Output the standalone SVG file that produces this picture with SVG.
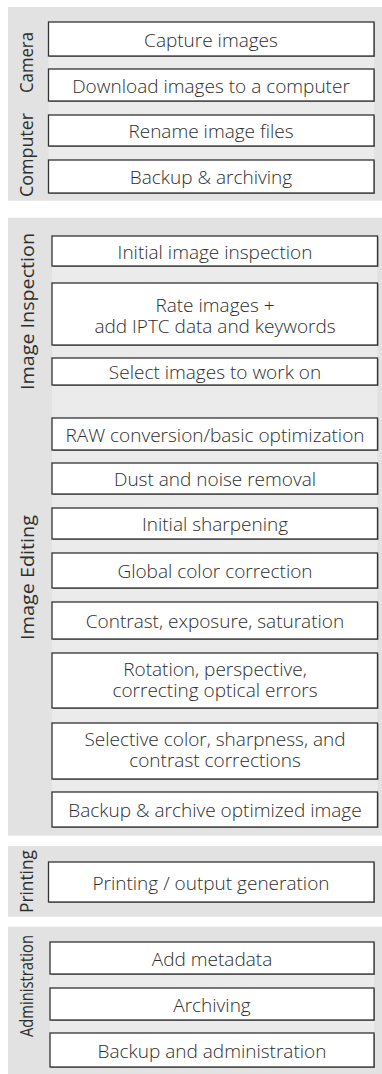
<svg xmlns="http://www.w3.org/2000/svg" width="382" height="1074" viewBox="0 0 382 1074">
  <style>
    .panel { fill: #e1e2e1; }
    .band { fill: #eaebea; }
    .box { fill: #ffffff; stroke: #333333; stroke-width: 1.3; }
    .shadow { fill: #8a8a8a; }
    .t { font-family: "Open Sans", "Liberation Sans", sans-serif; font-weight: 300; font-size: 19px; fill: #2e2e2e; text-anchor: middle; }
    .lane { font-family: "Open Sans", "Liberation Sans", sans-serif; font-weight: 400; font-size: 19px; fill: #2e2e2e; text-anchor: middle; }
  </style>

  <!-- swimlane panels -->
  <g id="panels">
    <rect class="panel" x="8" y="7" width="374" height="193.7"/>
    <rect class="panel" x="8" y="217.7" width="374" height="618"/>
    <rect class="panel" x="8" y="846" width="374" height="70.7"/>
    <rect class="panel" x="8" y="926.7" width="374" height="147.3"/>
    <!-- lighter strips behind the step column -->
    <rect class="band" x="48.5" y="22" width="325.5" height="171"/>
    <rect class="band" x="52" y="236" width="325.5" height="591"/>
    <rect class="band" x="50" y="942" width="324" height="125"/>
  </g>

  <!-- lane titles -->
  <g id="lane-labels">
    <text class="lane" transform="translate(33,62.5) rotate(-90)" textLength="61" lengthAdjust="spacingAndGlyphs">Camera</text>
    <text class="lane" transform="translate(33,155) rotate(-90)" textLength="84" lengthAdjust="spacingAndGlyphs">Computer</text>
    <text class="lane" transform="translate(34,311.5) rotate(-90)" textLength="157" lengthAdjust="spacingAndGlyphs">Image Inspection</text>
    <text class="lane" transform="translate(34,577.5) rotate(-90)" textLength="125" lengthAdjust="spacingAndGlyphs">Image Editing</text>
    <text class="lane" transform="translate(33,881.5) rotate(-90)" textLength="63" lengthAdjust="spacingAndGlyphs">Printing</text>
    <text class="lane" transform="translate(33,986) rotate(-90)" textLength="102" lengthAdjust="spacingAndGlyphs">Administration</text>
  </g>

  <!-- no connectors between steps; order is read top to bottom -->
  <g id="connectors"/>

  <!-- Camera / Computer -->
  <g id="capture">
    <rect class="shadow" x="49.5" y="23" width="325.5" height="34"/>
    <rect class="box" x="48.5" y="22" width="325.5" height="34"/>
    <text class="t" x="211" y="47">Capture images</text>
  </g>
  <g id="download">
    <rect class="shadow" x="49.5" y="70" width="325.5" height="32"/>
    <rect class="box" x="48.5" y="69" width="325.5" height="32"/>
    <text class="t" x="211" y="92.5">Download images to a computer</text>
  </g>
  <g id="rename">
    <rect class="shadow" x="49.5" y="116" width="325.5" height="31"/>
    <rect class="box" x="48.5" y="115" width="325.5" height="31"/>
    <text class="t" x="211" y="138">Rename image files</text>
  </g>
  <g id="backup-archiving">
    <rect class="shadow" x="49.5" y="161" width="325.5" height="33"/>
    <rect class="box" x="48.5" y="160" width="325.5" height="33"/>
    <text class="t" x="211" y="184">Backup &amp; archiving</text>
  </g>

  <!-- Image Inspection -->
  <g id="initial-inspection">
    <rect class="shadow" x="53" y="237" width="325.5" height="30"/>
    <rect class="box" x="52" y="236" width="325.5" height="30"/>
    <text class="t" x="215" y="258.5">Initial image inspection</text>
  </g>
  <g id="rate-images">
    <rect class="shadow" x="53" y="284" width="325.5" height="62"/>
    <rect class="box" x="52" y="283" width="325.5" height="62"/>
    <text class="t" x="215" y="311.5">Rate images +<tspan x="215" dy="21">add IPTC data and keywords</tspan></text>
  </g>
  <g id="select-images">
    <rect class="shadow" x="53" y="359" width="325.5" height="27"/>
    <rect class="box" x="52" y="358" width="325.5" height="27"/>
    <text class="t" x="215" y="379">Select images to work on</text>
  </g>

  <!-- Image Editing -->
  <g id="raw-conversion">
    <rect class="shadow" x="53" y="419" width="325.5" height="32"/>
    <rect class="box" x="52" y="418" width="325.5" height="32"/>
    <text class="t" x="215" y="441.5">RAW conversion/basic optimization</text>
  </g>
  <g id="dust-noise">
    <rect class="shadow" x="53" y="464" width="325.5" height="31"/>
    <rect class="box" x="52" y="463" width="325.5" height="31"/>
    <text class="t" x="215" y="486">Dust and noise removal</text>
  </g>
  <g id="initial-sharpening">
    <rect class="shadow" x="53" y="509" width="325.5" height="31"/>
    <rect class="box" x="52" y="508" width="325.5" height="31"/>
    <text class="t" x="215" y="531">Initial sharpening</text>
  </g>
  <g id="global-color">
    <rect class="shadow" x="53" y="554" width="325.5" height="35"/>
    <rect class="box" x="52" y="553" width="325.5" height="35"/>
    <text class="t" x="215" y="578">Global color correction</text>
  </g>
  <g id="contrast">
    <rect class="shadow" x="53" y="603" width="325.5" height="37"/>
    <rect class="box" x="52" y="602" width="325.5" height="37"/>
    <text class="t" x="215" y="628">Contrast, exposure, saturation</text>
  </g>
  <g id="rotation">
    <rect class="shadow" x="53" y="654" width="325.5" height="55"/>
    <rect class="box" x="52" y="653" width="325.5" height="55"/>
    <text class="t" x="215" y="675.5">Rotation, perspective,<tspan x="215" dy="21.5">correcting optical errors</tspan></text>
  </g>
  <g id="selective">
    <rect class="shadow" x="53" y="724" width="325.5" height="56"/>
    <rect class="box" x="52" y="723" width="325.5" height="56"/>
    <text class="t" x="215" y="745.5">Selective color, sharpness, and<tspan x="215" dy="21">contrast corrections</tspan></text>
  </g>
  <g id="backup-optimized">
    <rect class="shadow" x="53" y="793" width="325.5" height="35"/>
    <rect class="box" x="52" y="792" width="325.5" height="35"/>
    <text class="t" x="215" y="817">Backup &amp; archive optimized image</text>
  </g>

  <!-- Printing -->
  <g id="printing">
    <rect class="shadow" x="49.5" y="863" width="325.5" height="40"/>
    <rect class="box" x="48.5" y="862" width="325.5" height="40"/>
    <text class="t" x="211" y="889.5">Printing / output generation</text>
  </g>

  <!-- Administration -->
  <g id="add-metadata">
    <rect class="shadow" x="51" y="943" width="324" height="32"/>
    <rect class="box" x="50" y="942" width="324" height="32"/>
    <text class="t" x="212" y="965.5">Add metadata</text>
  </g>
  <g id="archiving">
    <rect class="shadow" x="51" y="989" width="324" height="32"/>
    <rect class="box" x="50" y="988" width="324" height="32"/>
    <text class="t" x="212" y="1011.5">Archiving</text>
  </g>
  <g id="backup-admin">
    <rect class="shadow" x="51" y="1034" width="324" height="34"/>
    <rect class="box" x="50" y="1033" width="324" height="34"/>
    <text class="t" x="212" y="1057.5">Backup and administration</text>
  </g>
</svg>
